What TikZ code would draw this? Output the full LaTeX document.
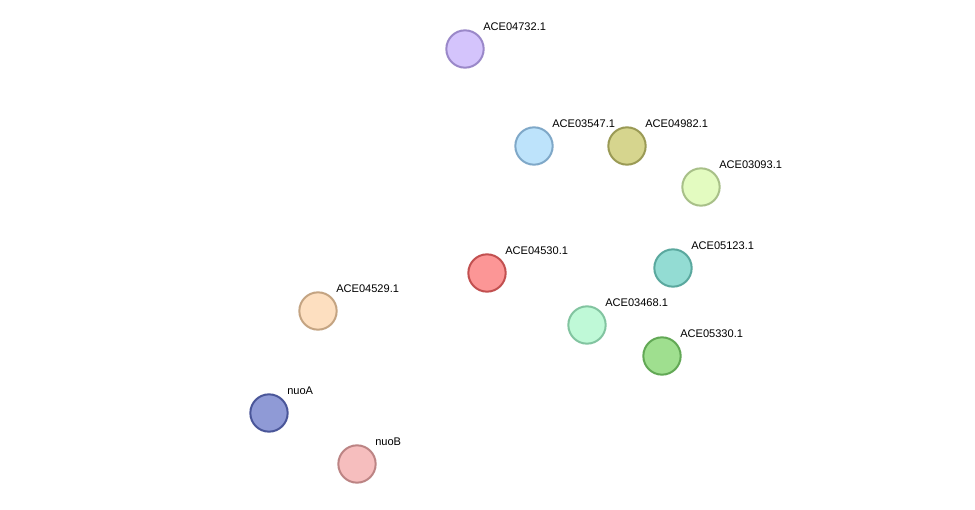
\documentclass[tikz,border=0pt]{standalone}
\usepackage{fontspec}
\setmainfont{Liberation Sans}
\usetikzlibrary{calc,backgrounds}
\definecolor{eY}{HTML}{C8C83A}\definecolor{eM}{HTML}{D43FD4}\definecolor{eG}{HTML}{33C433}
\definecolor{eB}{HTML}{2A2AE8}\definecolor{eK}{HTML}{333333}\definecolor{eR}{HTML}{E02020}\definecolor{eP}{HTML}{7A4FB0}
\newcommand\medge[4]{\foreach \c [count=\i] in {#4}{\pgfmathsetmacro\o{(\i-(#3+1)/2)*1.05}
  \draw[draw=\c,line width=0.75pt] ($(#1)!\o pt!90:(#2)$) -- ($(#2)!\o pt!-90:(#1)$);}}
\newcommand\protn[6]{\definecolor{tmpf}{HTML}{#4}\definecolor{tmpb}{HTML}{#5}
 \node[prot,fill=tmpf,draw=tmpb] (#1) at (#2,#3) {};
 \node[lab] (#1l) at (#2+18,#3-22) {#6};}
\tikzset{prot/.style={circle,minimum size=28pt,inner sep=0pt,line width=1.5pt},
 lab/.style={anchor=west,font=\fontsize{8.3}{10}\selectfont,inner sep=0pt}}
\begin{document}
\begin{tikzpicture}[x=0.75pt,y=-0.75pt]
\fill[white] (0,0) rectangle (975,510);
\protn{a}{465}{49}{D4C4FC}{9A88C9}{ACE04732.1}
\protn{b}{534}{146}{BDE3FB}{7FA8C8}{ACE03547.1}
\protn{c}{627}{146}{D6D58E}{9A9A55}{ACE04982.1}
\protn{d}{701}{187}{E3FBC0}{A8C088}{ACE03093.1}
\protn{e}{487}{273}{FC9696}{C25050}{ACE04530.1}
\protn{f}{673}{268}{93DCD3}{5AA89E}{ACE05123.1}
\protn{g}{587}{325}{BFF9D7}{82C4A0}{ACE03468.1}
\protn{h}{662}{356}{9FDF8F}{62A855}{ACE05330.1}
\protn{i}{318}{311}{FDDFC0}{C4A482}{ACE04529.1}
\protn{j}{269}{413}{8F9AD6}{4A5699}{nuoA}
\protn{k}{357}{464}{F6BEBE}{BC8484}{nuoB}
\begin{scope}[on background layer]
\medge{a}{b}{3}{eY,eM,eG}
\medge{a}{e}{3}{eY,eM,eG}
\medge{b}{e}{3}{eG,eB,eY}
\medge{b}{c}{3}{eB,eG,eY}
\medge{b}{d}{2}{eG,eY}
\medge{b}{g}{3}{eG,eB,eY}
\medge{b}{h}{3}{eG,eB,eY}
\medge{c}{e}{2}{eG,eB}
\medge{c}{d}{1}{eB}
\medge{c}{f}{5}{eY,eG,eB,eM,eR}
\medge{c}{h}{3}{eB,eG,eY}
\medge{c}{g}{1}{eY}
\medge{d}{e}{2}{eG,eY}
\medge{d}{f}{4}{eG,eY,eB,eK}
\medge{d}{h}{3}{eB,eK,eG}
\medge{d}{g}{1}{eB}
\medge{e}{f}{1}{eB}
\medge{e}{g}{3}{eY,eG,eB}
\medge{e}{h}{2}{eG,eY}
\medge{e}{i}{1}{eG}
\medge{e}{j}{1}{eG}
\medge{e}{k}{1}{eG}
\medge{f}{g}{5}{eG,eB,eM,eY,eR}
\medge{f}{h}{6}{eG,eB,eM,eR,eY,eK}
\medge{g}{h}{4}{eY,eG,eB,eK}
\medge{i}{j}{1}{eG}
\medge{i}{k}{1}{eG}
\medge{j}{k}{6}{eY,eG,eB,eM,eR,eP}
\end{scope}
\end{tikzpicture}
\end{document}
